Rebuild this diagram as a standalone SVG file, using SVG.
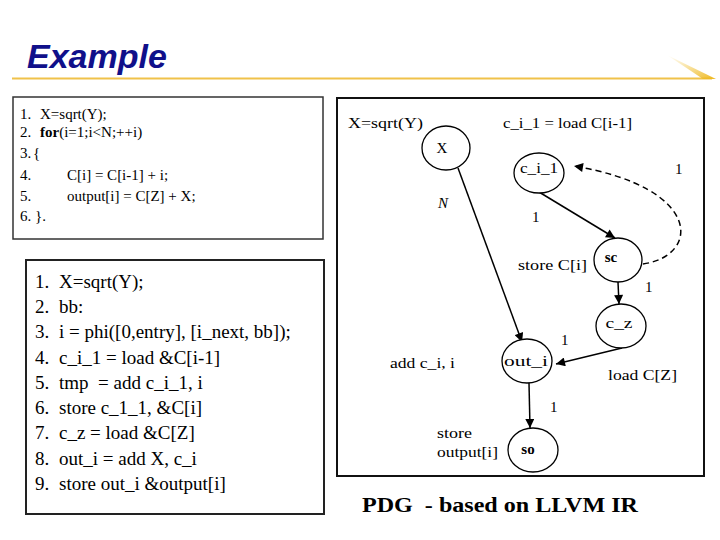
<svg xmlns="http://www.w3.org/2000/svg" width="720" height="540" viewBox="0 0 720 540">
<defs>
<style>
.t{font-family:"Liberation Serif","Times New Roman",serif;fill:#000}
.code1{font-size:15px}
.code2{font-size:19px}
.lbl{font-size:15px}
.nl{font-size:15px;text-anchor:middle}
.node{fill:#fff;stroke:#000;stroke-width:1.3}
.edge{fill:none;stroke:#000;stroke-width:1.5}
.dash{stroke-dasharray:6 4}
.pre{white-space:pre}
</style>
<marker id="ah" viewBox="0 0 10 10" refX="10" refY="5" markerWidth="10" markerHeight="9" markerUnits="userSpaceOnUse" orient="auto">
<path d="M0,0 L10,5 L0,10 z" fill="#000"/>
</marker>
<linearGradient id="wedge" x1="0" y1="0" x2="1" y2="1">
<stop offset="0" stop-color="#f3c94a" stop-opacity="0"/>
<stop offset="1" stop-color="#eeb820"/>
</linearGradient>
</defs>
<rect width="720" height="540" fill="#fff"/>

<g id="title">
<text x="27" y="68" style="font-family:'Liberation Sans',Arial,sans-serif;font-weight:bold;font-style:italic;font-size:34px;fill:#10108a">Example</text>
<line x1="12" y1="78.5" x2="712" y2="78.5" stroke="#f0c24a" stroke-width="2"/>
<polygon points="667,55 716,79 703,79" fill="url(#wedge)"/>
</g>

<g id="source-code">
<rect x="13" y="97" width="310" height="142" fill="#fff" stroke="#333" stroke-width="1.5"/>
<text class="t code1" x="20" y="119">1.</text><text class="t code1" x="40" y="119">X=sqrt(Y);</text>
<text class="t code1" x="20" y="137">2.</text><text class="t code1" x="40" y="137"><tspan font-weight="bold">for</tspan>(i=1;i&lt;N;++i)</text>
<text class="t code1" x="20" y="158">3.</text><text class="t code1" x="33" y="158">{</text>
<text class="t code1" x="20" y="180">4.</text><text class="t code1" x="67" y="180">C[i] = C[i-1] + i;</text>
<text class="t code1" x="20" y="201">5.</text><text class="t code1" x="67" y="201">output[i] = C[Z] + X;</text>
<text class="t code1" x="20" y="221">6. }.</text>
</g>

<g id="llvm-ir">
<rect x="26" y="260" width="298" height="254" fill="#fff" stroke="#222" stroke-width="2"/>
<text class="t code2" x="35" y="288">1.</text><text class="t code2" x="59" y="288">X=sqrt(Y);</text>
<text class="t code2" x="35" y="313">2.</text><text class="t code2" x="59" y="313">bb:</text>
<text class="t code2" x="35" y="338">3.</text><text class="t code2" x="59" y="338">i = phi([0,entry], [i_next, bb]);</text>
<text class="t code2" x="35" y="364">4.</text><text class="t code2" x="59" y="364">c_i_1 = load &amp;C[i-1]</text>
<text class="t code2" x="35" y="389">5.</text><text class="t code2 pre" x="59" y="389">tmp  = add c_i_1, i</text>
<text class="t code2" x="35" y="414">6.</text><text class="t code2" x="59" y="414">store c_1_1, &amp;C[i]</text>
<text class="t code2" x="35" y="439">7.</text><text class="t code2" x="59" y="439">c_z = load &amp;C[Z]</text>
<text class="t code2" x="35" y="465">8.</text><text class="t code2" x="59" y="465">out_i = add X, c_i</text>
<text class="t code2" x="35" y="490">9.</text><text class="t code2" x="59" y="490">store out_i &amp;output[i]</text>
</g>

<g id="pdg-frame">
<rect x="337" y="98" width="367" height="378" fill="none" stroke="#111" stroke-width="2"/>
</g>

<g id="connectors">
<line class="edge" x1="458" y1="168" x2="522" y2="342" marker-end="url(#ah)"/>
<line class="edge" x1="539" y1="192" x2="615" y2="238" marker-end="url(#ah)"/>
<path class="edge dash" d="M643,264 C700,256 704,188 574,166" marker-end="url(#ah)"/>
<line class="edge" x1="618" y1="282" x2="619" y2="304" marker-end="url(#ah)"/>
<line class="edge" x1="622" y1="348" x2="556" y2="364" marker-end="url(#ah)"/>
<line class="edge" x1="529" y1="383" x2="530" y2="428" marker-end="url(#ah)"/>
</g>

<g id="edge-labels">
<text class="t lbl" x="438" y="208" font-style="italic">N</text>
<text class="t lbl" x="532" y="222">1</text>
<text class="t lbl" x="675" y="174">1</text>
<text class="t lbl" x="645" y="292">1</text>
<text class="t lbl" x="561" y="345">1</text>
<text class="t lbl" x="550" y="412">1</text>
</g>

<g id="node-X">
<ellipse class="node" cx="446" cy="148" rx="24" ry="22"/>
<text class="t nl" x="442" y="153">X</text>
<text class="t lbl" x="348" y="128" textLength="75" lengthAdjust="spacingAndGlyphs">X=sqrt(Y)</text>
</g>

<g id="node-c_i_1">
<ellipse class="node" cx="539" cy="173" rx="25" ry="20"/>
<text class="t nl" x="539" y="173" textLength="38" lengthAdjust="spacingAndGlyphs">c_i_1</text>
<text class="t lbl" x="503" y="128" textLength="129" lengthAdjust="spacingAndGlyphs">c_i_1 = load C[i-1]</text>
</g>

<g id="node-sc">
<ellipse class="node" cx="618" cy="260" rx="24" ry="22"/>
<text class="t nl" x="611" y="262" font-weight="bold" font-size="14">sc</text>
<text class="t lbl" x="518" y="270" textLength="69" lengthAdjust="spacingAndGlyphs">store C[i]</text>
</g>

<g id="node-c_z">
<ellipse class="node" cx="621" cy="326" rx="25" ry="22"/>
<text class="t nl" x="619" y="328" textLength="27" lengthAdjust="spacingAndGlyphs">c_z</text>
<text class="t lbl" x="608" y="380" textLength="69" lengthAdjust="spacingAndGlyphs">load C[Z]</text>
</g>

<g id="node-out_i">
<ellipse class="node" cx="527" cy="361" rx="25" ry="22"/>
<text class="t nl" x="526" y="366" textLength="44" lengthAdjust="spacingAndGlyphs">out_i</text>
<text class="t lbl" x="390" y="368" textLength="65" lengthAdjust="spacingAndGlyphs">add c_i, i</text>
</g>

<g id="node-so">
<ellipse class="node" cx="533" cy="450" rx="25" ry="22"/>
<text class="t nl" x="528" y="454" font-weight="bold" font-size="14">so</text>
<text class="t lbl" x="437" y="438" textLength="35" lengthAdjust="spacingAndGlyphs">store</text>
<text class="t lbl" x="437" y="457" textLength="61" lengthAdjust="spacingAndGlyphs">output[i]</text>
</g>

<g id="caption">
<text class="t pre" x="362" y="512" font-weight="bold" font-size="20" textLength="276" lengthAdjust="spacingAndGlyphs">PDG  - based on LLVM IR</text>
</g>
</svg>
